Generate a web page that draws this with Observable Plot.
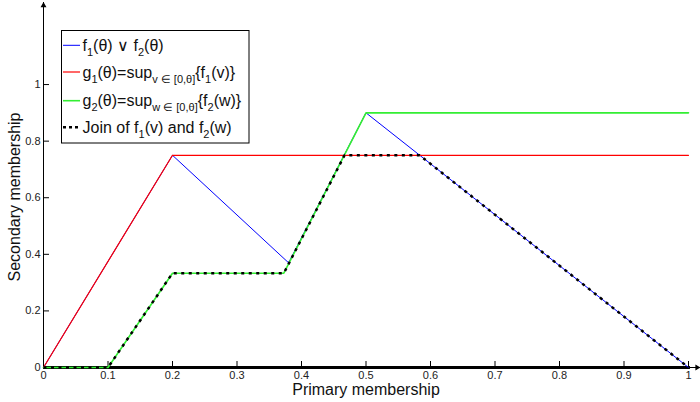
<!DOCTYPE html>
<html>
<head>
<meta charset="utf-8">
<script src="https://cdn.jsdelivr.net/npm/d3@7"></script>
<script src="https://cdn.jsdelivr.net/npm/@observablehq/plot@0.6"></script>
<style>
  body { margin: 0; background: #fff; }
  #chart { width: 700px; height: 402px; }
</style>
</head>
<body>
<div id="chart"></div>
<script>
// Breakpoints (θ, membership) of each piecewise-linear curve
const maxX = [0, 0.2, 0.38, 0.5, 1];
const maxY = [0, 0.75, 0.37, 0.9, 0];

const g1X = [0, 0.2, 1];
const g1Y = [0, 0.75, 0.75];

const g2X = [0, 0.1, 0.2, 0.3726, 0.5, 1];
const g2Y = [0, 0, 0.3333, 0.3333, 0.9, 0.9];

const joinX = [0, 0.1, 0.2, 0.3726, 0.4667, 0.5833, 1];
const joinY = [0, 0, 0.3333, 0.3333, 0.75, 0.75, 0];

const xTicks = [0, 0.1, 0.2, 0.3, 0.4, 0.5, 0.6, 0.7, 0.8, 0.9, 1];
const yTicks = [0, 0.2, 0.4, 0.6, 0.8, 1];

const yTop = 1.29;   // end of the vertical axis arrow
const xEnd = 1.018;  // end of the horizontal axis arrow

const xLabel = "Primary membership";
const yLabel = "Secondary membership";

// Legend entries: [text, isSubscript] segments
const legendItems = [
  { color: "#0000ff", dash: null, width: 1,
    parts: [["f", 0], ["1", 1], ["(θ) ∨ f", 0], ["2", 1], ["(θ)", 0]] },
  { color: "#ff0000", dash: null, width: 1.2,
    parts: [["g", 0], ["1", 1], ["(θ)=sup", 0], ["v ∈ [0,θ]", 1], ["{f", 0], ["1", 1], ["(v)}", 0]] },
  { color: "#33ee33", dash: null, width: 1.6,
    parts: [["g", 0], ["2", 1], ["(θ)=sup", 0], ["w ∈ [0,θ]", 1], ["{f", 0], ["2", 1], ["(w)}", 0]] },
  { color: "#000000", dash: "3,3", width: 2.5,
    parts: [["Join of f", 0], ["1", 1], ["(v) and f", 0], ["2", 1], ["(w)", 0]] }
];

const pts = (xs, ys) => xs.map((x, i) => ({ x, y: ys[i] }));
const font = "'Liberation Sans', Arial, Helvetica, sans-serif";

const plot = Plot.plot({
  width: 700,
  height: 402,
  marginLeft: 43,
  marginRight: 12,
  marginTop: 2,
  marginBottom: 35,
  x: { domain: [0, 1] },
  y: { domain: [0, yTop] },
  style: { fontFamily: font, fontSize: "11px", color: "#222", background: "#fff", overflow: "visible" },
  marks: [
    // tick labels
    Plot.axisX({ ticks: xTicks, tickSize: 0, tickPadding: 4, tickFormat: String, label: null }),
    Plot.axisY({ ticks: yTicks, tickSize: 0, tickPadding: 3, tickFormat: String, label: null }),
    // inward tick marks
    Plot.axisX({ ticks: xTicks, tickSize: 6, dy: -6, text: null, label: null, stroke: "#000" }),
    Plot.axisY({ ticks: yTicks, tickSize: 6, dx: 6, text: null, label: null, stroke: "#000" }),
    // axis lines with arrow heads
    Plot.ruleX([0], { y1: 0, y2: yTop, stroke: "#000", strokeWidth: 1 }),
    Plot.dot([{ x: 0, y: yTop }], { x: "x", y: "y", symbol: "triangle", r: 2.2, fill: "#000", stroke: null, dy: 3 }),
    Plot.ruleY([0], { x1: 0, x2: xEnd, stroke: "#000", strokeWidth: 1 }),
    Plot.ruleY([0], { x1: 0, x2: 1.003, stroke: "#000", strokeWidth: 3 }),
    Plot.dot([{ x: xEnd, y: 0 }], { x: "x", y: "y", symbol: "triangle", rotate: 90, r: 2.2, fill: "#000", stroke: null, dx: -3 }),
    // curves
    Plot.line(pts(maxX, maxY), { x: "x", y: "y", stroke: "#0000ff", strokeWidth: 1 }),
    Plot.line(pts(g1X, g1Y), { x: "x", y: "y", stroke: "#ff0000", strokeWidth: 1.2 }),
    Plot.line(pts(g2X, g2Y), { x: "x", y: "y", stroke: "#33ee33", strokeWidth: 1.6 }),
    Plot.line(pts(joinX, joinY), { x: "x", y: "y", stroke: "#000", strokeWidth: 2.5, strokeDasharray: "3,4.5", strokeLinecap: "butt" }),
    // axis titles
    Plot.text([xLabel], { frameAnchor: "bottom", lineAnchor: "middle", textAnchor: "middle", dy: 22, fontSize: 16, fill: "#111" }),
    Plot.text([yLabel], { frameAnchor: "left", lineAnchor: "middle", textAnchor: "middle", rotate: -90, dx: -29, dy: 12, fontSize: 16, fill: "#111" })
  ]
});

document.getElementById("chart").appendChild(plot);

// Legend box, drawn inside the plot's SVG
const svg = d3.select(plot);
const lg = svg.append("g")
  .attr("font-family", font)
  .attr("font-size", 16)
  .attr("text-anchor", "start")
  .attr("fill", "#111");

lg.append("rect")
  .attr("x", 61.5).attr("y", 30.5)
  .attr("width", 187.5).attr("height", 112.5)
  .attr("fill", "#fff").attr("stroke", "#000").attr("stroke-width", 1);

const rowY = [45.3, 72, 100.7, 127.3];
legendItems.forEach((item, i) => {
  const y = rowY[i];
  lg.append("line")
    .attr("x1", 63).attr("x2", 80).attr("y1", y).attr("y2", y)
    .attr("stroke", item.color).attr("stroke-width", item.width)
    .attr("stroke-dasharray", item.dash);
  const t = lg.append("text").attr("x", 82.5).attr("y", y + 5.5).attr("text-anchor", "start");
  let shifted = false;
  item.parts.forEach(([s, sub]) => {
    const ts = t.append("tspan").text(s);
    if (sub && !shifted) { ts.attr("dy", 5).attr("font-size", 11); shifted = true; }
    else if (sub) { ts.attr("font-size", 11); }
    else if (!sub && shifted) { ts.attr("dy", -5); shifted = false; }
  });
});
</script>
</body>
</html>
